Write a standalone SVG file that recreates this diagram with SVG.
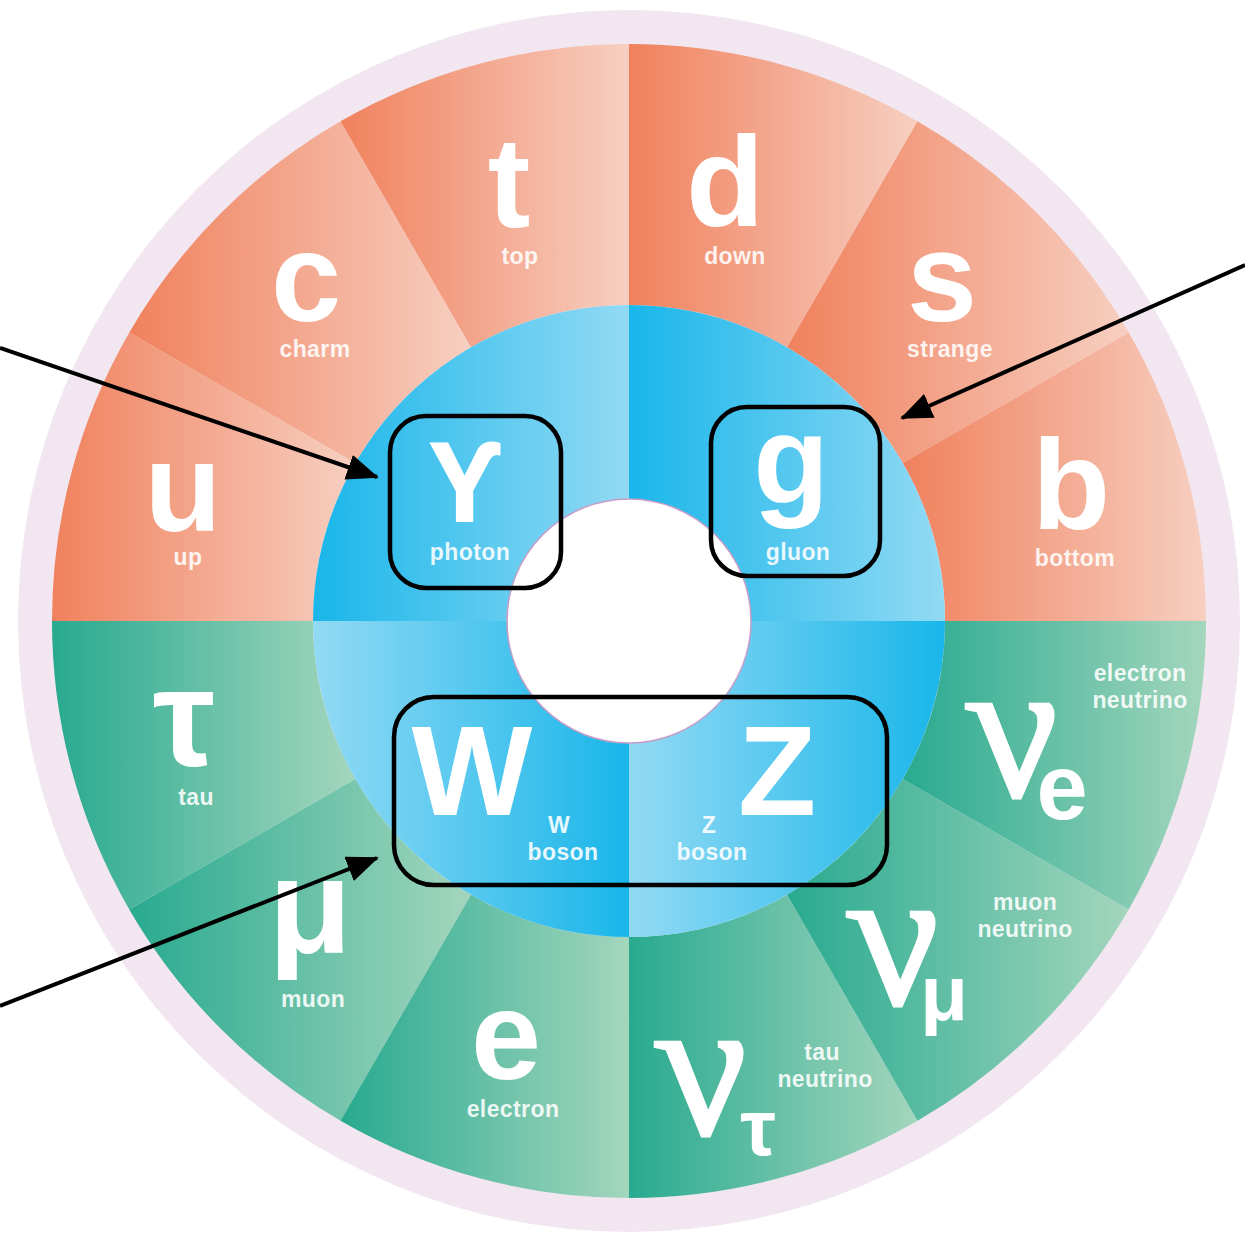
<svg xmlns="http://www.w3.org/2000/svg" width="1245" height="1239" viewBox="0 0 1245 1239">
<defs>
<linearGradient id="gq" x1="0" y1="0" x2="1" y2="0"><stop offset="0" stop-color="#f0815d"/><stop offset="1" stop-color="#f7cfc1"/></linearGradient>
<linearGradient id="gl" x1="0" y1="0" x2="1" y2="0"><stop offset="0" stop-color="#28aa8f"/><stop offset="1" stop-color="#a3d6bd"/></linearGradient>
<linearGradient id="gbd" x1="0" y1="0" x2="1" y2="0"><stop offset="0" stop-color="#19b6ea"/><stop offset="1" stop-color="#92daf4"/></linearGradient>
<linearGradient id="gbl" x1="0" y1="0" x2="1" y2="0"><stop offset="0" stop-color="#92daf4"/><stop offset="1" stop-color="#19b6ea"/></linearGradient>
<marker id="ah" markerUnits="userSpaceOnUse" markerWidth="32" markerHeight="26" refX="30" refY="13" orient="auto" viewBox="0 0 32 26"><path d="M0,0 L32,13 L0,26 Z" fill="#000"/></marker>
</defs>
<style>
.q{fill:url(#gq)}
.l{fill:url(#gl)}
.big{font-family:"Liberation Sans","DejaVu Sans",Arial,sans-serif;font-weight:bold;fill:#fff;text-anchor:middle}
.nu{font-family:"Liberation Serif","Times New Roman",serif;font-style:italic;font-size:200px;fill:#fff;stroke:#fff;stroke-width:3;text-anchor:middle}
.lab{font-family:"Liberation Sans",Arial,sans-serif;font-weight:bold;font-size:23px;fill:#fff;fill-opacity:0.88;text-anchor:middle;letter-spacing:0.4px}
.box{fill:none;stroke:#000;stroke-width:4.5}
.arr{stroke:#000;stroke-width:4;fill:none;marker-end:url(#ah)}
</style>
<rect width="1245" height="1239" fill="#fff"/>
<circle cx="629" cy="621" r="611" fill="#f2e6f1"/>
<g id="quarks">
<g id="up"><path class="q" d="M129.3,332.5 A577,577 0 0 0 52,621 L313,621 A316,316 0 0 1 355.34,463 Z"/><text class="big" x="183" y="531" font-size="126">u</text><text class="lab" x="188" y="565">up</text></g>
<g id="charm"><path class="q" d="M340.5,121.3 A577,577 0 0 0 129.3,332.5 L355.34,463 A316,316 0 0 1 471,347.34 Z"/><text class="big" x="306" y="321" font-size="126">c</text><text class="lab" x="315" y="357">charm</text></g>
<g id="top"><path class="q" d="M629,44 A577,577 0 0 0 340.5,121.3 L471,347.34 A316,316 0 0 1 629,305 Z"/><text class="big" x="509" y="227" font-size="128">t</text><text class="lab" x="520" y="264">top</text></g>
<g id="down"><path class="q" d="M917.5,121.3 A577,577 0 0 0 629,44 L629,305 A316,316 0 0 1 787,347.34 Z"/><text class="big" x="725" y="226" font-size="128">d</text><text class="lab" x="735" y="264">down</text></g>
<g id="strange"><path class="q" d="M1128.7,332.5 A577,577 0 0 0 917.5,121.3 L787,347.34 A316,316 0 0 1 902.66,463 Z"/><text class="big" x="942" y="321" font-size="126">s</text><text class="lab" x="950" y="357">strange</text></g>
<g id="bottom"><path class="q" d="M1206,621 A577,577 0 0 0 1128.7,332.5 L902.66,463 A316,316 0 0 1 945,621 Z"/><text class="big" x="1071" y="529" font-size="128">b</text><text class="lab" x="1075" y="566">bottom</text></g>
</g>
<g id="leptons">
<g id="tau"><path class="l" d="M52,621 A577,577 0 0 0 129.3,909.5 L355.34,779 A316,316 0 0 1 313,621 Z"/><text class="big" x="184" y="766" font-size="140">τ</text><text class="lab" x="196" y="805">tau</text></g>
<g id="muon"><path class="l" d="M129.3,909.5 A577,577 0 0 0 340.5,1120.7 L471,894.66 A316,316 0 0 1 355.34,779 Z"/><text class="big" x="310" y="952" font-size="136">μ</text><text class="lab" x="313" y="1007">muon</text></g>
<g id="electron"><path class="l" d="M340.5,1120.7 A577,577 0 0 0 629,1198 L629,937 A316,316 0 0 1 471,894.66 Z"/><text class="big" x="506" y="1079" font-size="126">e</text><text class="lab" x="513" y="1117">electron</text></g>
<g id="tau-neutrino"><path class="l" d="M629,1198 A577,577 0 0 0 917.5,1120.7 L787,894.66 A316,316 0 0 1 629,937 Z"/><text class="nu" transform="translate(714,1134) skewX(11)">ν</text><text class="big" x="758" y="1155" font-size="80">τ</text><text class="lab" x="822" y="1060">tau</text><text class="lab" x="825" y="1087">neutrino</text></g>
<g id="muon-neutrino"><path class="l" d="M917.5,1120.7 A577,577 0 0 0 1128.7,909.5 L902.66,779 A316,316 0 0 1 787,894.66 Z"/><text class="nu" transform="translate(906,1004) skewX(11)">ν</text><text class="big" x="944" y="1020" font-size="78">μ</text><text class="lab" x="1025" y="910">muon</text><text class="lab" x="1025" y="937">neutrino</text></g>
<g id="electron-neutrino"><path class="l" d="M1128.7,909.5 A577,577 0 0 0 1206,621 L945,621 A316,316 0 0 1 902.66,779 Z"/><text class="nu" transform="translate(1025,796) skewX(11)">ν</text><text class="big" x="1062" y="819" font-size="92">e</text><text class="lab" x="1140" y="681">electron</text><text class="lab" x="1140" y="708">neutrino</text></g>
</g>
<g id="bosons">
<g id="photon-q"><path fill="url(#gbd)" d="M629,621 L313,621 A316,316 0 0 1 629,305 Z"/></g>
<g id="gluon-q"><path fill="url(#gbd)" d="M629,621 L629,305 A316,316 0 0 1 945,621 Z"/></g>
<g id="z-q"><path fill="url(#gbl)" d="M629,621 L945,621 A316,316 0 0 1 629,937 Z"/></g>
<g id="w-q"><path fill="url(#gbl)" d="M629,621 L629,937 A316,316 0 0 1 313,621 Z"/></g>
</g>
<circle id="center" cx="629" cy="621" r="122" fill="#fff" stroke="#c79dc8" stroke-width="1.5"/>
<g id="photon"><text x="466" y="522" font-size="112" font-family="'Noto Sans','DejaVu Sans',sans-serif" font-weight="bold" fill="#fff" text-anchor="middle">ϒ</text><text class="lab" x="470" y="560">photon</text><rect class="box" x="390" y="416" width="171" height="172" rx="36"/></g>
<g id="gluon"><text class="big" x="791" y="503" font-size="124">g</text><text class="lab" x="798" y="560">gluon</text><rect class="box" x="711" y="407" width="169" height="169" rx="36"/></g>
<g id="wz"><text class="big" x="472" y="815" font-size="128">W</text><text class="lab" x="559" y="833">W</text><text class="lab" x="563" y="860">boson</text><text class="big" x="777" y="815" font-size="128">Z</text><text class="lab" x="709" y="833">Z</text><text class="lab" x="712" y="860">boson</text><rect class="box" x="394" y="697" width="493" height="188" rx="40"/></g>
<g id="connectors">
<line class="arr" x1="0" y1="348" x2="377" y2="477"/>
<line class="arr" x1="1245" y1="265" x2="902" y2="418"/>
<line class="arr" x1="0" y1="1006" x2="377" y2="858"/>
</g>
</svg>
